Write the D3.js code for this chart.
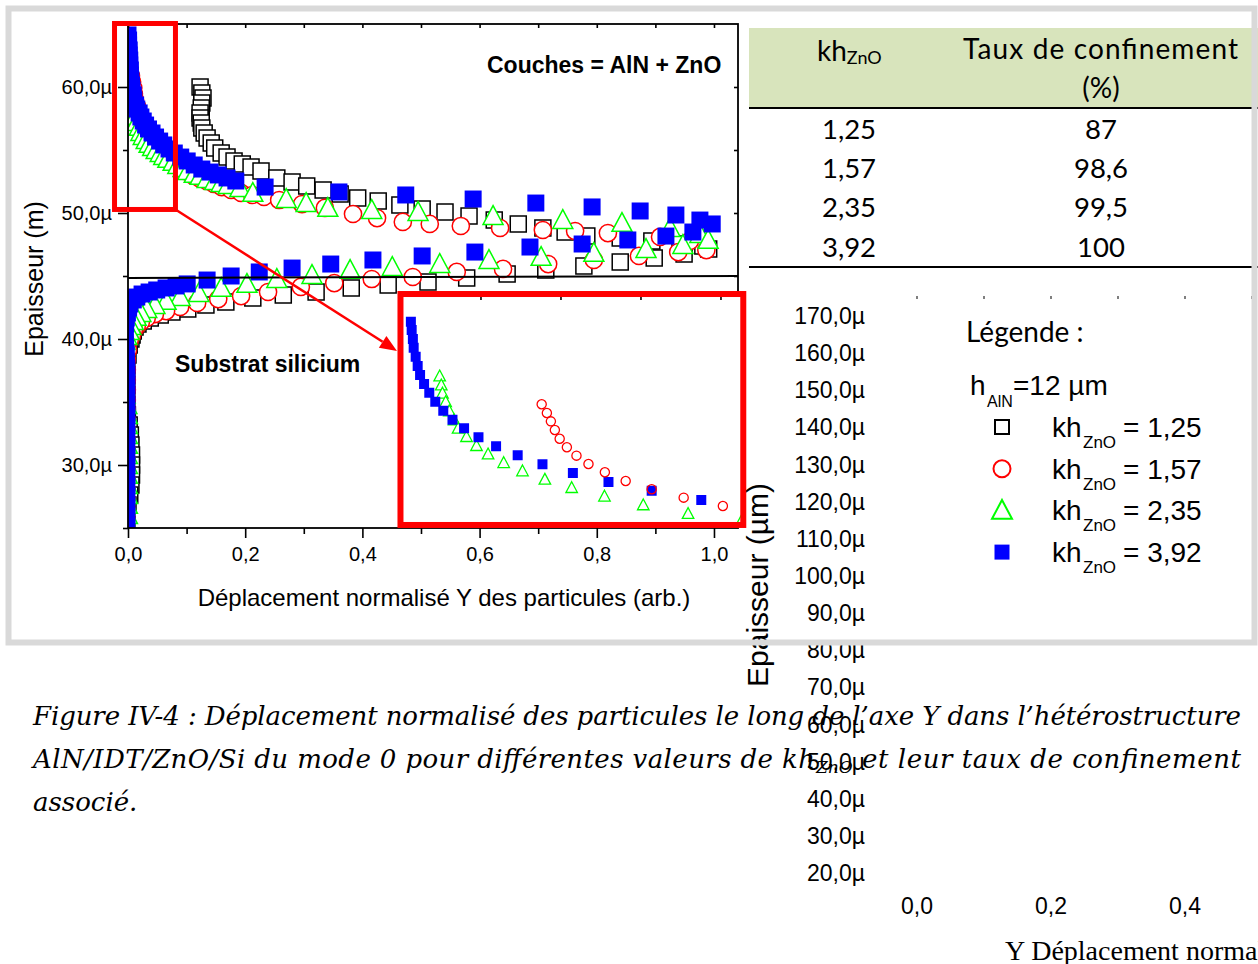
<!DOCTYPE html>
<html lang="fr">
<head>
<meta charset="utf-8">
<title>Figure IV-4</title>
<script src="https://cdn.jsdelivr.net/npm/d3@7/dist/d3.min.js"></script>
<style>
html,body{margin:0;padding:0;background:#fff;}
svg{display:block;}
</style>
</head>
<body>
<svg id="fig" width="1258" height="964" xmlns="http://www.w3.org/2000/svg"></svg>
<script>
// ================= DATA =================
const seriesLabels = ["1,25", "1,57", "2,35", "3,92"];
const confinement = ["87", "98,6", "99,5", "100"];
const xTickValues = [0, 0.2, 0.4, 0.6, 0.8, 1.0];
const xMinorTickValues = [0.1, 0.3, 0.5, 0.7, 0.9];
const xTopTickValues = [0, 0.1, 0.2, 0.3, 0.4, 0.5, 0.6, 0.7, 0.8, 0.9, 1.0];
const yTickValues = [30, 40, 50, 60];
const yMinorTickValues = [25, 35, 45, 55];
const yRightTickValues = [30, 35, 40, 45, 50, 55, 60];
const rightYTicks = [170, 160, 150, 140, 130, 120, 110, 100, 90, 80, 70, 60, 50, 40, 30, 20];
const rightXTicks = [0, 0.2, 0.4];
const rightTopTicks = [0, 0.1, 0.2, 0.3, 0.4, 0.5];
const insetTopTicks = [0.02, 0.04, 0.06, 0.08];
const interfaceLine = [[0, 44.84], [1.041, 45.0]];

// [displacement (arb.), thickness (µm)]  kh = 1,25
const kh125 = [
 [0.123,60.00],[0.126,59.52],[0.128,59.13],[0.126,58.73],[0.125,58.33],[0.123,57.94],[0.123,57.54],[0.125,57.14],
 [0.126,56.75],[0.130,56.35],[0.135,55.95],[0.142,55.56],[0.148,55.16],[0.159,54.76],[0.169,54.44],[0.181,54.13],
 [0.195,53.89],[0.210,53.65],[0.227,53.33],[0.254,52.78],[0.280,52.46],[0.305,52.14],[0.333,51.83],[0.362,51.51],
 [0.392,51.19],[0.427,50.95],[0.464,50.63],[0.502,50.32],[0.541,50.08],[0.582,49.76],[0.625,49.44],[0.666,49.13],
 [0.708,48.81],[0.746,48.49],[0.783,48.17],[0.840,48.02],[0.894,47.78],[0.942,47.54],[0.981,47.38],
 [0.991,47.14],[0.949,46.75],[0.898,46.43],[0.840,46.11],[0.778,45.79],[0.713,45.48],[0.647,45.16],[0.578,44.84],
 [0.512,44.52],[0.444,44.29],[0.381,44.05],[0.321,43.73],[0.265,43.49],[0.213,43.25],[0.167,42.94],[0.133,42.70],
 [0.102,42.38],[0.075,42.14],[0.055,41.90],[0.038,41.67],[0.026,41.43],[0.017,41.19],[0.012,40.95],[0.009,40.63],
 [0.007,40.32],[0.005,40.00],
 [0.002,39.52],[0.000,38.73],[-0.002,37.94],[-0.002,37.14],[-0.002,36.35],[-0.002,35.56],[-0.002,34.76],[-0.001,33.97],
 [0.002,33.17],[0.004,32.38],[0.005,31.59],[0.006,30.79],[0.006,30.00],[0.006,29.21],[0.005,28.41],[0.003,27.62],
 [0.000,26.83],[-0.002,26.03],[-0.002,25.24]
];
// kh = 1,57
const kh157 = [
 [0.005,60.87],[0.007,60.40],[0.009,59.92],[0.010,59.44],[0.012,58.97],[0.015,58.49],[0.017,58.02],[0.020,57.62],
 [0.024,57.22],[0.027,56.83],[0.031,56.51],[0.035,56.19],[0.039,55.87],[0.044,55.56],[0.049,55.24],[0.055,54.92],
 [0.062,54.60],[0.070,54.29],[0.078,53.97],[0.088,53.65],[0.098,53.33],[0.109,53.02],[0.121,52.78],[0.134,52.54],
 [0.147,52.30],[0.160,52.06],[0.176,51.83],[0.193,51.59],[0.212,51.43],[0.232,51.27],[0.258,51.03],[0.297,50.71],
 [0.336,50.40],[0.384,49.92],[0.425,49.60],[0.469,49.29],[0.515,49.13],[0.568,48.97],[0.635,48.81],[0.708,48.65],
 [0.763,48.57],[0.819,48.41],[0.908,48.10],[0.959,47.78],
 [0.987,47.06],[0.939,46.90],[0.872,46.59],[0.795,46.27],[0.717,45.95],[0.640,45.56],[0.561,45.32],[0.486,44.92],
 [0.416,44.76],[0.352,44.44],[0.295,44.13],[0.239,43.73],[0.193,43.41],[0.154,43.17],[0.118,42.86],[0.089,42.54],
 [0.065,42.22],[0.046,41.98],[0.032,41.67],[0.022,41.35],[0.015,41.03],[0.010,40.71],[0.007,40.32],[0.003,39.92],
 [0.000,39.13],[-0.002,38.33],[-0.002,37.54],[-0.002,36.75],[-0.002,35.95],[-0.002,35.16],[-0.002,34.37],[-0.002,33.57],
 [-0.002,32.78],[-0.002,31.98],[-0.002,31.19],[-0.002,30.40],[-0.002,29.60],[-0.002,28.81],[-0.002,28.02],[-0.002,27.22],
 [-0.002,26.43],[-0.002,25.63]
];
// kh = 2,35
const kh235 = [
 [0.001,61.03],[0.003,60.56],[0.004,60.08],[0.006,59.60],[0.008,59.13],[0.009,58.65],[0.011,58.17],[0.013,57.70],
 [0.015,57.22],[0.019,56.83],[0.022,56.43],[0.026,56.11],[0.031,55.79],[0.036,55.48],[0.042,55.24],[0.048,55.00],
 [0.055,54.76],[0.061,54.52],[0.068,54.29],[0.077,54.05],[0.085,53.81],[0.094,53.57],[0.102,53.33],[0.113,53.10],
 [0.123,52.94],[0.135,52.70],[0.148,52.54],[0.159,52.38],[0.171,52.22],[0.191,51.98],[0.213,51.59],[0.270,51.11],
 [0.304,50.79],[0.341,50.40],[0.416,50.24],[0.495,50.08],[0.623,49.76],[0.742,49.44],[0.843,49.21],[0.925,48.81],
 [0.976,48.33],
 [0.990,47.86],[0.947,47.46],[0.884,47.14],[0.795,46.83],[0.705,46.51],[0.616,46.27],[0.532,45.95],[0.451,45.71],
 [0.379,45.48],[0.314,45.08],[0.254,44.76],[0.203,44.37],[0.159,44.05],[0.121,43.65],[0.089,43.33],[0.065,43.02],
 [0.046,42.70],[0.032,42.38],[0.022,42.06],[0.014,41.75],[0.009,41.43],[0.005,41.03],[0.002,40.63],[-0.002,40.24],
 [-0.005,39.84],[-0.009,39.37],[-0.010,38.73],[-0.010,37.94],[-0.009,37.14],[-0.007,36.35],[-0.005,35.56],[-0.002,34.76],
 [-0.001,33.97],[-0.001,33.17],[-0.001,32.38],[-0.001,31.59],[-0.001,30.79],[-0.001,30.00],[-0.001,29.21],[-0.001,28.41],
 [-0.001,27.62],[-0.001,26.83],[-0.001,26.03],[-0.001,25.24]
];
// kh = 3,92
const kh392 = [
 [0.000,64.13],[0.001,63.73],[0.001,63.33],[0.002,62.94],[0.002,62.54],[0.003,62.14],[0.003,61.75],[0.004,61.35],
 [0.004,60.95],[0.005,60.56],[0.006,60.16],[0.007,59.76],[0.009,59.37],[0.010,58.97],[0.013,58.57],[0.015,58.25],
 [0.019,57.94],[0.022,57.62],[0.026,57.30],[0.030,56.98],[0.035,56.67],[0.041,56.35],[0.047,56.03],[0.054,55.71],
 [0.061,55.40],[0.070,55.08],[0.079,54.76],[0.090,54.44],[0.101,54.13],[0.113,53.81],[0.126,53.49],[0.140,53.25],
 [0.154,53.02],[0.169,52.78],[0.184,52.54],[0.234,52.06],[0.360,51.67],[0.474,51.43],[0.589,51.11],[0.696,50.79],
 [0.792,50.48],[0.874,50.16],[0.935,49.84],[0.976,49.44],[0.997,49.13],
 [0.964,48.49],[0.918,48.17],[0.853,47.86],[0.775,47.54],[0.686,47.30],[0.592,46.90],[0.502,46.59],[0.418,46.27],
 [0.346,45.95],[0.280,45.63],[0.224,45.32],[0.176,45.00],[0.135,44.68],[0.101,44.37],[0.082,44.21],[0.065,44.05],
 [0.049,43.89],[0.036,43.73],[0.024,43.57],[0.015,43.33],[0.009,43.10],[0.003,42.78],[0.001,42.46],[-0.001,42.06],
 [-0.003,41.67],[-0.004,41.19],[-0.005,40.71],[-0.005,40.24],[-0.005,39.76],[-0.004,39.29],[-0.003,38.81],[-0.003,38.25],
 [-0.002,37.70],[-0.002,37.06],[-0.002,36.35],[-0.002,35.56],[-0.002,34.76],[-0.002,33.97],[-0.002,33.17],[-0.002,32.38],
 [-0.002,31.59],[-0.002,30.79],[-0.002,30.00],[-0.002,29.21],[-0.002,28.41],[-0.002,27.62],[-0.002,26.83],[-0.002,26.03],
 [-0.002,25.24]
];
// inset (zoom on the surface region)
const insetBlue = [
 [0.0026,63.06],[0.0028,62.53],[0.0031,61.96],[0.0033,61.41],[0.0038,60.84],[0.0043,60.25],[0.0049,59.68],[0.0059,59.11],
 [0.0072,58.56],[0.0087,57.99],[0.0107,57.42],[0.0130,56.85],[0.0159,56.31],[0.0195,55.74],[0.0239,55.17],[0.0293,54.60],
 [0.0355,54.03],[0.0431,53.48],[0.0520,52.91],[0.0628,52.36],[0.0752,51.77]
];
const insetGreen = [
 [0.0098,59.62],[0.0102,59.05],[0.0105,58.53],[0.0113,57.99],[0.0122,57.41],[0.0134,56.84],[0.0144,56.31],[0.0165,55.78],
 [0.0190,55.21],[0.0219,54.68],[0.0258,54.13],[0.0305,53.61],[0.0361,53.08],[0.0428,52.55],[0.0510,52.01],[0.0607,51.46],
 [0.0719,50.91],[0.0851,50.38]
];
const insetRed = [
 [0.0353,57.83],[0.0366,57.28],[0.0376,56.75],[0.0386,56.20],[0.0398,55.65],[0.0416,55.11],[0.0440,54.58],[0.0470,54.05],
 [0.0511,53.53],[0.0563,52.97],[0.0628,52.45],[0.0708,51.92],[0.0806,51.39]
];

// ================= DRAWING =================
const W = 1258, H = 964;
const svg = d3.select("#fig");
const SANS = "'Liberation Sans', Arial, sans-serif";
const LATO = "Lato, 'Open Sans', sans-serif";
const loc = d3.formatLocale({decimal: ",", thousands: " ", grouping: [3], currency: ["", ""]});
const f1 = loc.format(".1f");

svg.append("rect").attr("width", W).attr("height", H).attr("fill", "#fff");

const x = d3.scaleLinear().domain([0, 1.041]).range([128, 738]);
const y = d3.scaleLinear().domain([25, 65]).range([528, 24]);

const defs = svg.append("defs");
defs.append("clipPath").attr("id", "clipMain").append("rect")
  .attr("x", x(0)).attr("y", y(65)).attr("width", x(1.041) - x(0)).attr("height", y(25) - y(65));

const triangleType = {
  draw(ctx, size) {
    const s = Math.sqrt(size);
    ctx.moveTo(0, -0.52 * s);
    ctx.lineTo(0.5 * s, 0.42 * s);
    ctx.lineTo(-0.5 * s, 0.42 * s);
    ctx.closePath();
  }
};

const styles = [
  {type: d3.symbolSquare, size: 16 * 16, fill: "#fff", stroke: "#000", sw: 1.5},
  {type: d3.symbolCircle, size: Math.PI * 8.6 * 8.6, fill: "#fff", stroke: "#ff0000", sw: 1.5},
  {type: triangleType, size: 20 * 20, fill: "#fff", stroke: "#00ff00", sw: 1.5},
  {type: d3.symbolSquare, size: 17 * 17, fill: "#0000ff", stroke: "none", sw: 0}
];
const mainData = [kh125, kh157, kh235, kh392];

const gPlot = svg.append("g").attr("clip-path", "url(#clipMain)");
mainData.forEach((data, i) => {
  const st = styles[i];
  gPlot.append("g").selectAll("path").data(data).join("path")
    .attr("transform", d => `translate(${x(d[0])},${y(d[1])})`)
    .attr("d", d3.symbol().type(st.type).size(st.size)())
    .attr("fill", st.fill).attr("stroke", st.stroke).attr("stroke-width", st.sw);
});

// interface line
svg.append("path").datum(interfaceLine)
  .attr("d", d3.line().x(d => x(d[0])).y(d => y(d[1])))
  .attr("stroke", "#000").attr("stroke-width", 2).attr("fill", "none");

// axes
function styleAxis(g, fs) {
  g.select(".domain").remove();
  g.selectAll("line").attr("stroke", "#000").attr("stroke-width", 1.6);
  g.selectAll("text").attr("font-family", SANS).attr("font-size", fs).attr("fill", "#000");
}
svg.append("g").attr("transform", `translate(0,${y(25)})`)
  .call(d3.axisBottom(x).tickValues(xTickValues).tickFormat(f1).tickSize(10).tickPadding(9))
  .call(g => styleAxis(g, 20));
svg.append("g").attr("transform", `translate(0,${y(25)})`)
  .call(d3.axisBottom(x).tickValues(xMinorTickValues).tickFormat("").tickSize(6))
  .call(g => styleAxis(g, 20));
svg.append("g").attr("transform", `translate(${x(0)},0)`)
  .call(d3.axisLeft(y).tickValues(yTickValues).tickFormat(d => f1(d) + "µ").tickSize(10).tickPadding(6))
  .call(g => styleAxis(g, 20));
svg.append("g").attr("transform", `translate(${x(0)},0)`)
  .call(d3.axisLeft(y).tickValues(yMinorTickValues).tickFormat("").tickSize(5))
  .call(g => styleAxis(g, 20));
svg.append("g").attr("transform", `translate(0,${y(65)})`)
  .call(d3.axisTop(x).tickValues(xTopTickValues).tickFormat("").tickSize(-4))
  .call(g => styleAxis(g, 20));
svg.append("g").attr("transform", `translate(${x(1.041)},0)`)
  .call(d3.axisRight(y).tickValues(yRightTickValues).tickFormat("").tickSize(-4))
  .call(g => styleAxis(g, 20));
svg.append("rect")
  .attr("x", x(0)).attr("y", y(65)).attr("width", x(1.041) - x(0)).attr("height", y(25) - y(65))
  .attr("fill", "none").attr("stroke", "#000").attr("stroke-width", 1.8);

// annotations
svg.append("text").attr("x", 487).attr("y", 73).attr("font-family", SANS).attr("font-weight", "bold")
  .attr("font-size", 23).text("Couches = AlN + ZnO");
svg.append("text").attr("x", 175).attr("y", 372).attr("font-family", SANS).attr("font-weight", "bold")
  .attr("font-size", 23).text("Substrat silicium");

// axis titles
svg.append("text").attr("x", 444).attr("y", 606).attr("text-anchor", "middle")
  .attr("font-family", SANS).attr("font-size", 24).text("Déplacement normalisé Y des particules (arb.)");
svg.append("text").attr("transform", "translate(43,279) rotate(-90)").attr("text-anchor", "middle")
  .attr("font-family", SANS).attr("font-size", 25).text("Epaisseur (m)");

// inset
const insetBox = {v0: 0.465, v1: 1.050, m0: 25.24, m1: 43.57};
const xIn = d3.scaleLinear().domain([0, 0.0857]).range([x(insetBox.v0), x(insetBox.v1)]);
const yIn = d3.scaleLinear().domain([50.19, 64.81]).range([y(insetBox.m0), y(insetBox.m1)]);
defs.append("clipPath").attr("id", "clipInset").append("rect")
  .attr("x", x(insetBox.v0)).attr("y", y(insetBox.m1))
  .attr("width", x(insetBox.v1) - x(insetBox.v0)).attr("height", y(insetBox.m0) - y(insetBox.m1));
svg.append("rect")
  .attr("x", x(insetBox.v0)).attr("y", y(insetBox.m1))
  .attr("width", x(insetBox.v1) - x(insetBox.v0)).attr("height", y(insetBox.m0) - y(insetBox.m1))
  .attr("fill", "#fff");
const gIn = svg.append("g").attr("clip-path", "url(#clipInset)");
gIn.append("g").selectAll("path").data(insetGreen).join("path")
  .attr("transform", d => `translate(${xIn(d[0])},${yIn(d[1])})`)
  .attr("d", d3.symbol().type(triangleType).size(11.5 * 11.5)())
  .attr("fill", "#fff").attr("stroke", "#00ff00").attr("stroke-width", 1.3);
gIn.append("g").selectAll("path").data(insetBlue).join("path")
  .attr("transform", d => `translate(${xIn(d[0])},${yIn(d[1])})`)
  .attr("d", d3.symbol().type(d3.symbolSquare).size(10 * 10)())
  .attr("fill", "#0000ff");
gIn.append("g").selectAll("path").data(insetRed).join("path")
  .attr("transform", d => `translate(${xIn(d[0])},${yIn(d[1])})`)
  .attr("d", d3.symbol().type(d3.symbolCircle).size(Math.PI * 4.6 * 4.6)())
  .attr("fill", "none").attr("stroke", "#ff0000").attr("stroke-width", 1.3);
svg.append("g").attr("transform", `translate(0,${y(insetBox.m1) + 3})`)
  .call(d3.axisTop(xIn).tickValues(insetTopTicks).tickFormat("").tickSize(-3))
  .call(g => styleAxis(g, 10));
svg.append("rect")
  .attr("x", x(insetBox.v0)).attr("y", y(insetBox.m1))
  .attr("width", x(insetBox.v1) - x(insetBox.v0)).attr("height", y(insetBox.m0) - y(insetBox.m1))
  .attr("fill", "none").attr("stroke", "#ff0000").attr("stroke-width", 6);

// small zoom box + arrow
const smallBox = {v0: -0.023, v1: 0.081, m0: 50.28, m1: 65.04};
svg.append("rect")
  .attr("x", x(smallBox.v0)).attr("y", y(smallBox.m1))
  .attr("width", x(smallBox.v1) - x(smallBox.v0)).attr("height", y(smallBox.m0) - y(smallBox.m1))
  .attr("fill", "none").attr("stroke", "#ff0000").attr("stroke-width", 5);
const arrowFrom = [x(0.081), y(50.28)], arrowTo = [x(0.459), y(39.05)];
const ang = Math.atan2(arrowTo[1] - arrowFrom[1], arrowTo[0] - arrowFrom[0]);
const headL = 17, headW = 7;
const base = [arrowTo[0] - headL * Math.cos(ang), arrowTo[1] - headL * Math.sin(ang)];
svg.append("line").attr("x1", arrowFrom[0]).attr("y1", arrowFrom[1]).attr("x2", base[0]).attr("y2", base[1])
  .attr("stroke", "#ff0000").attr("stroke-width", 2.5);
svg.append("path").attr("d", d3.line()([
  arrowTo,
  [base[0] + headW * Math.sin(ang), base[1] - headW * Math.cos(ang)],
  [base[0] - headW * Math.sin(ang), base[1] + headW * Math.cos(ang)]
]) + "Z").attr("fill", "#ff0000");

// table
const tbl = svg.append("g");
tbl.append("rect").attr("x", 749).attr("y", 28).attr("width", W - 749).attr("height", 80).attr("fill", "#d8e4bc");
tbl.append("line").attr("x1", 749).attr("x2", W).attr("y1", 108).attr("y2", 108).attr("stroke", "#000").attr("stroke-width", 2);
tbl.append("line").attr("x1", 749).attr("x2", W).attr("y1", 267).attr("y2", 267).attr("stroke", "#000").attr("stroke-width", 2);
tbl.append("text").attr("x", 817).attr("y", 61).attr("font-family", LATO).attr("font-size", 28).text("kh")
  .append("tspan").attr("font-size", 18).attr("dy", 3).text("ZnO");
tbl.append("text").attr("x", 963).attr("y", 59).attr("font-family", LATO)
  .attr("font-size", 28).attr("textLength", 275).attr("lengthAdjust", "spacing").text("Taux de confinement");
tbl.append("text").attr("x", 1101).attr("y", 98).attr("text-anchor", "middle").attr("font-family", LATO)
  .attr("font-size", 28).text("(%)");
seriesLabels.forEach((s, i) => {
  tbl.append("text").attr("x", 849).attr("y", 139 + 39.2 * i).attr("text-anchor", "middle")
    .attr("font-family", LATO).attr("font-size", 27.5).text(s);
  tbl.append("text").attr("x", 1101).attr("y", 139 + 39.2 * i).attr("text-anchor", "middle")
    .attr("font-family", LATO).attr("font-size", 27.5).text(confinement[i]);
});

// right (overlapping) chart
const xR = d3.scaleLinear().domain([0, 0.5]).range([917, 1252]);
const yR = d3.scaleLinear().domain([20, 170]).range([873, 316]);
svg.append("g").selectAll("line").data(rightTopTicks).join("line")
  .attr("x1", d => xR(d)).attr("x2", d => xR(d)).attr("y1", 296).attr("y2", 299)
  .attr("stroke", "#555").attr("stroke-width", 1.5);
svg.append("g").selectAll("text").data(rightYTicks).join("text")
  .attr("x", 865).attr("y", d => yR(d)).attr("dy", "0.35em").attr("text-anchor", "end")
  .attr("font-family", SANS).attr("font-size", 23).text(d => f1(d) + "µ");
svg.append("g").selectAll("text").data(rightXTicks).join("text")
  .attr("x", d => xR(d)).attr("y", 914).attr("text-anchor", "middle")
  .attr("font-family", SANS).attr("font-size", 23).text(d => f1(d));
svg.append("text").attr("transform", "translate(768,585) rotate(-90)").attr("text-anchor", "middle")
  .attr("font-family", SANS).attr("font-size", 30).text("Epaisseur (µm)");
svg.append("text").attr("x", 1005).attr("y", 960).attr("font-family", "'Liberation Serif', 'Times New Roman', serif")
  .attr("font-size", 28).text("Y Déplacement normalisé des particules (arb.)");

// legend
const lg = svg.append("g");
lg.append("text").attr("x", 966).attr("y", 342).attr("font-family", LATO).attr("font-size", 28).text("Légende :");
lg.append("text").attr("x", 970).attr("y", 395).attr("font-family", SANS).attr("font-size", 28).text("h");
lg.append("text").attr("x", 987).attr("y", 407).attr("font-family", SANS).attr("font-size", 16).text("AlN");
lg.append("text").attr("x", 1013).attr("y", 395).attr("font-family", SANS).attr("font-size", 28).text("=12 µm");
const legStyles = [
  {type: d3.symbolSquare, size: 14 * 14, fill: "#fff", stroke: "#000", sw: 2},
  {type: d3.symbolCircle, size: Math.PI * 8.5 * 8.5, fill: "#fff", stroke: "#ff0000", sw: 2},
  {type: triangleType, size: 20 * 20, fill: "#fff", stroke: "#00ff00", sw: 2},
  {type: d3.symbolSquare, size: 15 * 15, fill: "#0000ff", stroke: "none", sw: 0}
];
seriesLabels.forEach((s, i) => {
  const cy = 427 + 41.7 * i;
  const st = legStyles[i];
  lg.append("path").attr("transform", `translate(1002,${cy})`)
    .attr("d", d3.symbol().type(st.type).size(st.size)())
    .attr("fill", st.fill).attr("stroke", st.stroke).attr("stroke-width", st.sw);
  lg.append("text").attr("x", 1052).attr("y", cy + 10).attr("font-family", SANS).attr("font-size", 28).text("kh");
  lg.append("text").attr("x", 1083).attr("y", cy + 21).attr("font-family", SANS).attr("font-size", 17).text("ZnO");
  lg.append("text").attr("x", 1123).attr("y", cy + 10).attr("font-family", SANS).attr("font-size", 28).text("= " + s);
});

// caption
const CAP = "'DejaVu Serif', serif";
const cap = svg.append("g").attr("font-family", CAP).attr("font-style", "italic").attr("font-size", 26).attr("fill", "#000");
cap.append("text").attr("x", 33).attr("y", 725).attr("textLength", 1208).attr("lengthAdjust", "spacing")
  .text("Figure IV-4 : Déplacement normalisé des particules le long de l’axe Y dans l’hétérostructure");
cap.append("text").attr("x", 33).attr("y", 768).attr("textLength", 782).attr("lengthAdjust", "spacing")
  .text("AlN/IDT/ZnO/Si du mode 0 pour différentes valeurs de kh");
cap.append("text").attr("x", 816).attr("y", 773).attr("font-size", 17).text("ZnO");
cap.append("text").attr("x", 862).attr("y", 768).attr("textLength", 379).attr("lengthAdjust", "spacing")
  .text("et leur taux de confinement");
cap.append("text").attr("x", 33).attr("y", 811).text("associé.");

// outer grey frame
svg.append("rect").attr("x", 8.5).attr("y", 8.5).attr("width", 1246).attr("height", 634)
  .attr("fill", "none").attr("stroke", "#d9d9d9").attr("stroke-width", 6);
</script>
</body>
</html>
